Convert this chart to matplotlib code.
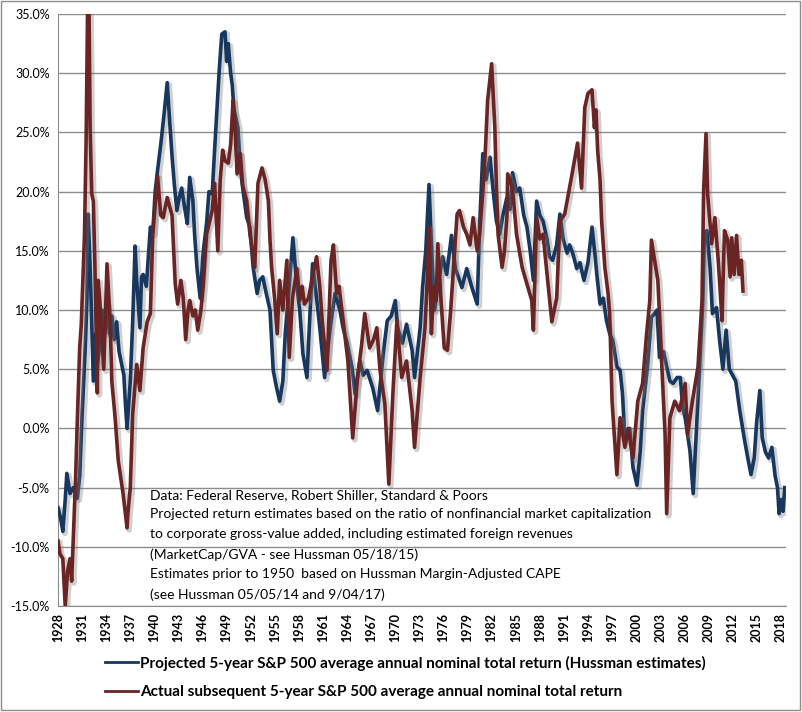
import matplotlib
matplotlib.use("Agg")
import matplotlib.pyplot as plt
import matplotlib.patheffects as pe
from matplotlib.lines import Line2D
from matplotlib.patches import Rectangle

# (year, % return)
projected = [
    (1928.0, -6.7), (1928.3, -7.5), (1928.6, -8.7), (1928.9, -6.0), (1929.1, -3.8),
    (1929.5, -5.5), (1929.9, -5.0), (1930.4, -5.9), (1930.7, -4.0), (1931.0, 1.2),
    (1931.2, 4.0), (1931.4, 7.0), (1931.6, 10.8), (1931.75, 18.1), (1932.0, 13.6),
    (1932.2, 9.0), (1932.4, 4.0), (1932.7, 8.0), (1932.9, 5.5), (1933.2, 7.0),
    (1933.5, 10.0), (1933.8, 8.0), (1934.1, 10.5), (1934.4, 8.0), (1934.7, 9.5),
    (1935.0, 7.5), (1935.3, 9.0), (1935.6, 6.5), (1935.9, 5.5), (1936.2, 4.5),
    (1936.4, 2.0), (1936.6, 0.0), (1937.0, 4.0), (1937.3, 9.0), (1937.6, 15.4),
    (1937.8, 12.5), (1938.2, 8.5), (1938.4, 12.8), (1938.6, 13.0), (1939.0, 12.0),
    (1939.5, 17.0), (1939.8, 16.5), (1940.1, 20.0), (1940.4, 21.8), (1940.8, 24.0),
    (1941.2, 26.5), (1941.6, 29.2), (1941.9, 26.0), (1942.2, 23.0), (1942.5, 20.5),
    (1942.8, 18.4), (1943.1, 19.5), (1943.4, 20.3), (1943.8, 18.5), (1944.1, 17.3),
    (1944.4, 21.2), (1944.8, 19.2), (1945.0, 16.5), (1945.3, 13.6), (1945.7, 11.0),
    (1946.1, 15.0), (1946.5, 17.3), (1946.8, 20.0), (1947.2, 19.8), (1947.5, 23.5),
    (1947.8, 27.0), (1948.1, 30.5), (1948.4, 33.3), (1948.8, 33.5), (1949.0, 31.0),
    (1949.2, 32.5), (1949.5, 30.0), (1949.7, 29.0), (1949.9, 27.0), (1950.4, 25.4),
    (1950.7, 22.0), (1951.0, 20.3), (1951.5, 17.8), (1951.9, 17.0), (1952.3, 13.6),
    (1952.8, 11.4), (1953.1, 12.5), (1953.5, 12.8), (1953.9, 11.5), (1954.4, 10.0),
    (1954.8, 4.9), (1955.2, 3.5), (1955.6, 2.3), (1956.0, 4.0), (1956.3, 8.0),
    (1956.9, 13.0), (1957.25, 16.1), (1957.75, 12.0), (1958.1, 10.0), (1958.5, 6.3),
    (1959.0, 4.3), (1959.4, 10.0), (1959.7, 13.9), (1960.2, 11.0), (1960.6, 8.5),
    (1961.2, 4.3), (1961.9, 8.5), (1962.5, 11.4), (1963.1, 10.0), (1963.5, 8.5),
    (1964.0, 7.2), (1964.6, 5.2), (1965.0, 2.9), (1965.6, 5.7), (1966.0, 4.5),
    (1966.5, 4.9), (1967.2, 3.4), (1967.8, 1.5), (1968.5, 6.3), (1969.0, 9.1),
    (1969.5, 9.5), (1970.0, 10.8), (1970.3, 8.5), (1970.9, 7.2), (1971.4, 8.8),
    (1972.1, 6.6), (1972.4, 4.3), (1973.1, 8.5), (1973.4, 11.9), (1973.8, 15.0),
    (1974.2, 20.6), (1974.6, 14.0), (1974.9, 10.0), (1975.3, 12.0), (1975.9, 14.5),
    (1976.4, 13.0), (1977.0, 16.3), (1977.5, 13.5), (1978.3, 11.9), (1978.9, 13.5),
    (1979.5, 12.0), (1980.2, 10.5), (1980.5, 17.0), (1980.9, 23.2), (1981.3, 21.0),
    (1981.8, 22.9), (1982.2, 20.0), (1982.6, 17.5), (1983.0, 16.4), (1983.4, 18.0),
    (1983.9, 19.5), (1984.3, 18.5), (1984.6, 21.6), (1985.1, 20.0), (1985.5, 20.3),
    (1986.0, 18.0), (1986.4, 17.0), (1986.8, 15.0), (1987.2, 12.5), (1987.6, 19.2),
    (1988.0, 18.0), (1988.4, 17.5), (1988.9, 16.0), (1989.2, 14.5), (1989.6, 14.2),
    (1990.1, 15.5), (1990.5, 18.1), (1990.9, 16.0), (1991.4, 14.8), (1991.7, 15.5),
    (1992.1, 14.8), (1992.6, 13.5), (1993.0, 14.0), (1993.5, 12.5), (1994.0, 14.0),
    (1994.5, 17.0), (1994.9, 14.5), (1995.1, 13.0), (1995.5, 10.5), (1995.9, 11.0),
    (1996.3, 9.1), (1996.7, 8.0), (1997.1, 7.4), (1997.6, 5.2), (1998.0, 4.9),
    (1998.3, 2.9), (1998.6, -1.0), (1999.2, 0.0), (1999.6, -3.3), (2000.1, -4.8),
    (2000.5, -2.0), (2000.8, 1.5), (2001.4, 5.2), (2001.9, 9.4), (2002.3, 9.7),
    (2002.6, 10.0), (2002.9, 6.0), (2003.4, 6.5), (2003.8, 5.2), (2004.2, 4.0),
    (2004.6, 3.8), (2005.1, 4.3), (2005.5, 4.3), (2005.8, 1.7), (2006.1, 0.9),
    (2006.7, -1.9), (2007.1, -5.5), (2007.6, 1.2), (2007.9, 5.2), (2008.3, 10.8),
    (2008.5, 16.5), (2008.8, 16.7), (2009.2, 13.6), (2009.5, 9.7), (2010.0, 10.2),
    (2010.4, 7.4), (2010.8, 5.0), (2011.2, 8.3), (2011.6, 5.0), (2012.0, 4.5),
    (2012.4, 4.0), (2012.9, 1.5), (2013.5, -1.0), (2013.9, -2.5), (2014.3, -3.9),
    (2014.7, -2.5), (2015.0, 0.5), (2015.4, 3.2), (2015.7, -0.8), (2016.1, -2.0),
    (2016.5, -2.5), (2016.9, -1.6), (2017.3, -4.0), (2017.6, -5.0), (2017.8, -7.2),
    (2018.1, -6.0), (2018.3, -7.0), (2018.5, -5.0),
]

actual = [
    (1928.0, -9.5), (1928.25, -10.6), (1928.6, -11.0), (1928.9, -15.0), (1929.2, -12.0),
    (1929.5, -11.0), (1929.7, -12.9), (1929.9, -9.3), (1930.2, -4.0), (1930.4, 0.6),
    (1930.7, 6.8), (1930.9, 8.8), (1931.1, 12.5), (1931.3, 16.4), (1931.5, 24.3),
    (1931.7, 36.5), (1931.85, 36.5), (1932.0, 25.4), (1932.2, 19.8), (1932.4, 19.2),
    (1932.6, 13.6), (1932.9, 3.0), (1933.0, 12.5), (1933.2, 10.8), (1933.7, 5.0),
    (1934.1, 13.9), (1934.5, 9.0), (1934.7, 4.0), (1935.1, 1.0), (1935.5, -2.7),
    (1936.1, -5.5), (1936.6, -8.4), (1936.7, -7.2), (1937.0, -5.0), (1937.3, 1.2),
    (1937.8, 5.4), (1938.2, 3.2), (1938.6, 6.8), (1939.1, 9.0), (1939.5, 9.7),
    (1939.8, 16.4), (1940.4, 21.3), (1940.8, 18.0), (1941.1, 17.8), (1941.6, 19.5),
    (1942.2, 18.0), (1942.6, 12.2), (1942.9, 10.5), (1943.3, 12.5), (1943.6, 11.0),
    (1943.9, 7.5), (1944.2, 10.0), (1944.4, 10.8), (1944.8, 9.5), (1945.1, 10.0),
    (1945.4, 8.3), (1945.8, 10.0), (1946.1, 12.2), (1946.5, 16.4), (1947.2, 18.4),
    (1947.5, 20.7), (1947.9, 15.0), (1948.2, 21.0), (1948.5, 23.5), (1948.8, 22.6),
    (1949.2, 22.4), (1949.5, 24.0), (1949.8, 27.7), (1950.0, 26.0), (1950.3, 21.5),
    (1950.7, 23.2), (1951.0, 20.5), (1951.5, 19.2), (1951.9, 16.4), (1952.2, 15.0),
    (1952.5, 13.6), (1952.9, 20.7), (1953.4, 22.0), (1953.8, 21.0), (1954.2, 19.2),
    (1954.4, 15.9), (1954.6, 13.6), (1955.0, 10.8), (1955.3, 8.0), (1955.6, 12.5),
    (1956.0, 10.0), (1956.5, 14.2), (1956.8, 6.0), (1957.2, 11.0), (1957.75, 13.5),
    (1958.1, 10.8), (1958.4, 12.0), (1958.7, 10.5), (1959.2, 11.0), (1959.6, 12.5),
    (1960.2, 14.5), (1960.6, 12.0), (1960.9, 9.1), (1961.5, 4.9), (1962.0, 14.2),
    (1962.3, 15.5), (1962.7, 11.4), (1963.0, 12.0), (1963.5, 9.1), (1964.1, 5.7),
    (1964.7, -0.8), (1965.3, 4.3), (1965.8, 7.0), (1966.2, 9.7), (1966.8, 6.8),
    (1967.3, 7.5), (1967.7, 8.5), (1968.1, 4.9), (1968.7, 2.1), (1969.2, -4.7),
    (1969.7, 2.9), (1970.2, 9.1), (1970.8, 4.3), (1971.4, 5.7), (1972.1, 1.5),
    (1972.4, -1.6), (1973.1, 4.3), (1973.7, 8.5), (1974.0, 12.8), (1974.2, 17.0),
    (1974.5, 8.0), (1974.8, 12.0), (1975.1, 10.8), (1975.3, 15.6), (1975.7, 10.8),
    (1976.1, 6.8), (1976.5, 6.6), (1976.9, 10.0), (1977.3, 14.0), (1977.7, 18.1),
    (1978.0, 18.4), (1978.5, 17.0), (1978.9, 16.4), (1979.3, 15.5), (1979.7, 17.8),
    (1980.2, 15.0), (1980.5, 16.4), (1980.9, 20.0), (1981.2, 23.2), (1981.5, 27.7),
    (1982.0, 30.8), (1982.4, 25.4), (1982.6, 20.3), (1982.8, 16.4), (1983.3, 13.6),
    (1983.6, 15.0), (1983.9, 17.8), (1984.0, 21.5), (1984.6, 20.3), (1985.1, 16.4),
    (1985.8, 13.6), (1986.4, 12.2), (1987.0, 10.8), (1987.2, 8.3), (1987.6, 17.8),
    (1988.0, 16.0), (1988.4, 16.4), (1988.9, 13.0), (1989.5, 9.0), (1990.1, 11.0),
    (1990.5, 17.5), (1991.1, 18.1), (1991.7, 20.3), (1992.1, 21.8), (1992.7, 24.1),
    (1993.2, 20.3), (1993.6, 27.1), (1994.0, 28.3), (1994.5, 28.6), (1994.8, 25.4),
    (1995.0, 26.9), (1995.2, 23.5), (1995.5, 21.0), (1995.7, 17.5), (1995.9, 15.6),
    (1996.1, 13.6), (1996.5, 11.4), (1996.7, 9.7), (1997.0, 2.3), (1997.3, -0.8),
    (1997.6, -3.9), (1998.0, 0.9), (1998.6, -1.6), (1999.0, 0.0), (1999.6, -2.5),
    (2000.2, 2.3), (2000.8, 3.8), (2001.3, 8.0), (2001.7, 10.8), (2001.9, 15.9),
    (2002.3, 14.2), (2002.7, 12.5), (2002.9, 9.7), (2003.2, 5.2), (2003.6, -0.5),
    (2003.8, -7.2), (2004.2, 0.9), (2004.8, 2.3), (2005.4, 1.5), (2006.1, 3.8),
    (2006.4, -0.5), (2007.0, 2.3), (2007.7, 5.2), (2008.2, 10.8), (2008.4, 20.1),
    (2008.7, 24.9), (2008.9, 19.8), (2009.4, 15.6), (2009.8, 17.8), (2010.2, 14.4),
    (2010.7, 9.1), (2010.8, 12.0), (2011.0, 16.7), (2011.4, 15.9), (2011.7, 12.8),
    (2011.9, 16.1), (2012.2, 13.0), (2012.5, 16.3), (2012.8, 13.0), (2013.1, 14.2),
    (2013.3, 11.6),
]

tick_years = list(range(1928, 2019, 3))
y_ticks = [-15, -10, -5, 0, 5, 10, 15, 20, 25, 30, 35]

proj_label = "Projected 5-year S&P 500 average annual nominal total return (Hussman estimates)"
actual_label = "Actual subsequent 5-year S&P 500 average annual nominal total return"
note_lines = [
    "Data: Federal Reserve, Robert Shiller, Standard & Poors",
    "Projected return estimates based on the ratio of nonfinancial market capitalization",
    "to corporate gross-value added, including estimated foreign revenues",
    "(MarketCap/GVA - see Hussman 05/18/15)",
    "Estimates prior to 1950  based on Hussman Margin-Adjusted CAPE",
    "(see Hussman 05/05/14 and 9/04/17)",
]

blue = "#17375E"
red = "#6A2424"
grid_gray = "#8C8C8C"

plt.rcParams['font.family'] = ['Lato', 'DejaVu Sans']

fig = plt.figure(figsize=(8.02, 7.12), dpi=100)
ax = fig.add_axes([58 / 802, 1 - 606 / 712, (786 - 58) / 802, (606 - 14) / 712])

shadow = [pe.SimpleLineShadow(offset=(1.5, -1.5), shadow_color='#7a7a7a', alpha=0.35, linewidth=4.0),
          pe.Normal()]

px, pv = zip(*projected)
axx, axv = zip(*actual)
ax.plot(px, pv, color=blue, lw=2.6, solid_joinstyle='round', path_effects=shadow, zorder=3)
ax.plot(axx, axv, color=red, lw=2.6, solid_joinstyle='round', path_effects=shadow, zorder=4)

ax.set_xlim(1928, 2018.66)
ax.set_ylim(-15, 35)
ax.set_yticks(y_ticks)
ax.set_yticklabels([f"{v:.1f}%" for v in y_ticks], fontsize=9)
ax.set_xticks(tick_years)
ax.set_xticklabels([str(y) for y in tick_years], rotation=90, fontsize=9, fontweight='bold')
ax.tick_params(axis='both', length=0, pad=5)
ax.tick_params(axis='y', pad=6)

ax.yaxis.grid(True, color=grid_gray, lw=1)
ax.set_axisbelow(True)
for side in ['top', 'right']:
    ax.spines[side].set_visible(False)
ax.spines['left'].set_color(grid_gray)
ax.spines['bottom'].set_color(grid_gray)

ax.text((150 - 58) / 728, 0.198, "\n".join(note_lines), transform=ax.transAxes, fontsize=10,
        va='top', ha='left', linespacing=1.76, color='black')

handles = [Line2D([], [], color=blue, lw=2), Line2D([], [], color=red, lw=2)]
fig.legend(handles, [proj_label, actual_label], loc='upper left',
           bbox_to_anchor=(91 / 802, 1 - 642 / 712), frameon=False,
           prop={'weight': 'bold', 'size': 11}, handlelength=2.2, handletextpad=0.1,
           labelspacing=0.95)

fig.patches.append(Rectangle((0.001, 0.003), 0.997, 0.995, transform=fig.transFigure,
                             fill=False, edgecolor='#8C8C8C', lw=1))

fig.savefig("out.png", dpi=100)
